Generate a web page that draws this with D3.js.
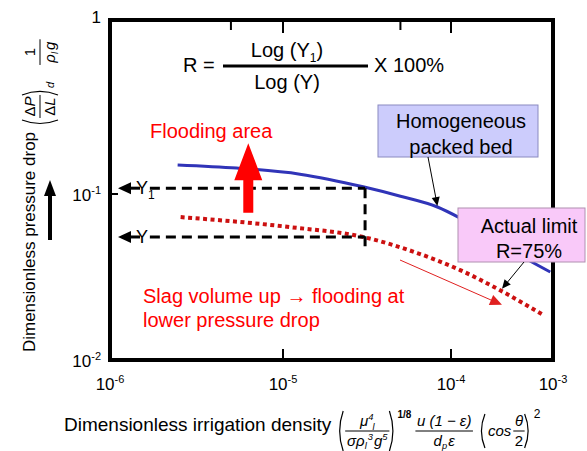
<!DOCTYPE html>
<html>
<head>
<meta charset="utf-8">
<script src="https://cdn.jsdelivr.net/npm/d3@7"></script>
<style>
  body { margin: 0; background: #fff; }
  text { font-family: "Liberation Sans", Arial, Helvetica, sans-serif; }
</style>
</head>
<body>
<div id="chart"></div>
<script>
// axis decades
const xTicks = [1e-6, 1e-5, 1e-4, 1e-3];
const xTickExp = ["-6", "-5", "-4", "-3"];
const xMinorTop = [5e-6, 1e-5, 5e-5, 1e-4];
const xMinorBottom = [1e-5, 1e-4];
const yTicks = [1e-2, 1e-1, 1];
const yTickExp = ["-2", "-1", ""];

// homogeneous packed bed (blue solid)
const homogX = [2.46e-6, 5.4e-6, 1.26e-5, 3.0e-5, 5.0e-5, 8.3e-5, 1.23e-4, 2.4e-4, 5.1e-4, 9.4e-4];
const homogY = [0.147, 0.141, 0.130, 0.110, 0.097, 0.0835, 0.0716, 0.0566, 0.0417, 0.0339];

// actual limit (red dotted)
const actualX = [2.56e-6, 1.1e-5, 3.0e-5, 6.3e-5, 1.23e-4, 3.0e-4, 8.0e-4];
const actualY = [0.0726, 0.0632, 0.0551, 0.0441, 0.0348, 0.0264, 0.0187];

// guide levels
const y1Level = 0.108;
const yLevel = 0.0551;
const cutX = 3.08e-5;
const cutBottom = 0.0448;
const guideStartX = 1.7e-6;
const floodArrow = { x: 6.3e-6, y0: 0.077, y1: 0.196 };
const limitTip = { x: 3.09e-4, y: 0.0261 };
const homogTip = { x: 8.3e-5, y: 0.0835 };

const width = 587, height = 451;
const svg = d3.select("#chart").append("svg")
    .attr("width", width)
    .attr("height", height);

const x = d3.scaleLog().domain(xTicks).range([110, 283, 451, 553]);
const y = d3.scaleLog().domain(yTicks).range([360, 194, 20]);

const mathFont = "'Liberation Serif', 'DejaVu Serif', serif";
const noteSize = 20;

// text with sub/superscript pieces
function mtext(g, px, py, parts, fs, anchor, italic) {
    const t = g.append("text")
        .attr("x", px).attr("y", py)
        .attr("font-family", mathFont)
        .attr("font-style", italic === false ? "normal" : "italic")
        .attr("font-size", fs)
        .attr("text-anchor", anchor || "start");
    let shift = 0;
    parts.forEach(p => {
        const [s, k, dx] = p;
        const target = k === "sup" ? -fs * 0.4 : k === "sub" ? fs * 0.22 : 0;
        const ts = t.append("tspan").attr("dy", target - shift).text(s);
        if (k) ts.attr("font-size", fs * 0.62);
        if (dx) ts.attr("dx", dx);
        if (p[3] === "up") ts.attr("font-style", "normal");
        shift = target;
    });
    return t;
}

function frac(g, px, num, den, fs) {
    const n = mtext(g, 0, -fs * 0.32, num, fs, "middle");
    const d = mtext(g, 0, fs * 1.0, den, fs, "middle");
    const w = Math.max(n.node().getBBox().width, d.node().getBBox().width) + 3;
    n.attr("x", px + w / 2);
    d.attr("x", px + w / 2);
    g.append("line")
        .attr("x1", px).attr("x2", px + w)
        .attr("y1", 0).attr("y2", 0)
        .attr("stroke", "#000").attr("stroke-width", 1);
    return w;
}

function paren(g, px, h, left) {
    const w = 6;
    const p = left
        ? `M${px + w},${-h} Q${px - 1},0 ${px + w},${h}`
        : `M${px},${-h} Q${px + w + 1},0 ${px},${h}`;
    g.append("path").attr("d", p).attr("fill", "none").attr("stroke", "#000").attr("stroke-width", 1.2);
    return w + 2;
}

// frame
svg.append("rect")
    .attr("x", x(1e-6)).attr("y", y(1))
    .attr("width", x(1e-3) - x(1e-6))
    .attr("height", y(1e-2) - y(1))
    .attr("fill", "none")
    .attr("stroke", "#000")
    .attr("stroke-width", 4);

svg.selectAll(".tickTop")
    .data(xMinorTop)
    .enter().append("line")
    .attr("x1", d => x(d)).attr("x2", d => x(d))
    .attr("y1", y(1)).attr("y2", (d, i) => y(1) + (i % 2 ? 13 : 10))
    .attr("stroke", "#000").attr("stroke-width", 2);

svg.selectAll(".tickBottom")
    .data(xMinorBottom)
    .enter().append("line")
    .attr("x1", d => x(d)).attr("x2", d => x(d))
    .attr("y1", y(1e-2)).attr("y2", y(1e-2) - 11)
    .attr("stroke", "#000").attr("stroke-width", 2);

svg.append("line")
    .attr("x1", x(1e-6)).attr("x2", x(1e-6) + 8)
    .attr("y1", y(0.1)).attr("y2", y(0.1))
    .attr("stroke", "#000").attr("stroke-width", 2);

// tick labels
xTicks.forEach((v, i) => {
    const t = svg.append("text")
        .attr("x", x(v)).attr("y", 390)
        .attr("text-anchor", "middle")
        .attr("font-size", 17);
    t.append("tspan").text("10");
    t.append("tspan").attr("dy", -7).attr("font-size", 11).text(xTickExp[i]);
});

yTicks.forEach((v, i) => {
    const t = svg.append("text")
        .attr("x", 101).attr("y", y(v) + (i === 2 ? 3 : 7))
        .attr("text-anchor", "end")
        .attr("font-size", 17);
    if (yTickExp[i]) {
        t.append("tspan").text("10");
        t.append("tspan").attr("dy", -7).attr("font-size", 11).text(yTickExp[i]);
    } else {
        t.text("1");
    }
});

// curves
const line = d3.line()
    .x(d => x(d[0]))
    .y(d => y(d[1]))
    .curve(d3.curveMonotoneX);

svg.append("path")
    .attr("d", line(d3.zip(homogX, homogY)))
    .attr("fill", "none")
    .attr("stroke", "#3034b8")
    .attr("stroke-width", 3);

svg.append("path")
    .attr("d", line(d3.zip(actualX, actualY)))
    .attr("fill", "none")
    .attr("stroke", "#cc1010")
    .attr("stroke-width", 4)
    .attr("stroke-dasharray", "4,3.5");

// Y / Y1 guides
const guide = svg.append("g");
[[y1Level, "Y", "1"], [yLevel, "Y", ""]].forEach(([lv, s, sub]) => {
    const py = y(lv);
    const t = guide.append("text")
        .attr("x", 136).attr("y", py + 6)
        .attr("font-size", 18).text(s);
    if (sub) t.append("tspan").attr("dy", 5).attr("font-size", 12).text(sub);
    guide.append("path")
        .attr("d", `M118,${py} L131,${py - 6} L131,${py + 6} Z`)
        .attr("fill", "#000");
    guide.append("line")
        .attr("x1", 131).attr("x2", 140)
        .attr("y1", py).attr("y2", py)
        .attr("stroke", "#000").attr("stroke-width", 3);
    guide.append("line")
        .attr("x1", x(guideStartX)).attr("x2", x(cutX))
        .attr("y1", py).attr("y2", py)
        .attr("stroke", "#000").attr("stroke-width", 3)
        .attr("stroke-dasharray", "10,6");
});
guide.append("line")
    .attr("x1", x(cutX)).attr("x2", x(cutX))
    .attr("y1", y(y1Level)).attr("y2", y(cutBottom))
    .attr("stroke", "#000").attr("stroke-width", 3)
    .attr("stroke-dasharray", "10,6");

// flooding arrow
const fx = x(floodArrow.x), fy0 = y(floodArrow.y0), fy1 = y(floodArrow.y1);
svg.append("path")
    .attr("d", `M${fx - 5},${fy0} L${fx - 5},${fy1 + 37} L${fx - 14},${fy1 + 37} L${fx},${fy1} L${fx + 14},${fy1 + 37} L${fx + 5},${fy1 + 37} L${fx + 5},${fy0} Z`)
    .attr("fill", "#f00");

svg.append("text")
    .attr("x", 150).attr("y", 138)
    .attr("font-size", noteSize).attr("fill", "#f00")
    .text("Flooding area");

// formula R
const fr = svg.append("g");
fr.append("text").attr("x", 183).attr("y", 72).attr("font-size", noteSize).text("R =");
fr.append("line").attr("x1", 223).attr("x2", 368).attr("y1", 66).attr("y2", 66)
    .attr("stroke", "#000").attr("stroke-width", 3);
const ly1 = fr.append("text").attr("x", 287).attr("y", 57).attr("text-anchor", "middle").attr("font-size", noteSize);
ly1.append("tspan").text("Log (Y");
ly1.append("tspan").attr("dy", 5).attr("font-size", 12).text("1");
ly1.append("tspan").attr("dy", -5).text(")");
fr.append("text").attr("x", 287).attr("y", 89).attr("text-anchor", "middle").attr("font-size", noteSize).text("Log (Y)");
fr.append("text").attr("x", 374).attr("y", 72).attr("font-size", noteSize).text("X 100%");

// homogeneous box
svg.append("rect")
    .attr("x", 378).attr("y", 105).attr("width", 160).attr("height", 52)
    .attr("fill", "#ccccfc").attr("stroke", "#8a8ac0").attr("stroke-width", 1);
svg.append("text").attr("x", 461).attr("y", 128).attr("text-anchor", "middle").attr("font-size", noteSize).text("Homogeneous");
svg.append("text").attr("x", 461).attr("y", 154).attr("text-anchor", "middle").attr("font-size", noteSize).text("packed bed");

// actual limit box
svg.append("rect")
    .attr("x", 458).attr("y", 208).attr("width", 127).attr("height", 54)
    .attr("fill", "#f9c9f9").attr("stroke", "#b090b0").attr("stroke-width", 1);
svg.append("text").attr("x", 529).attr("y", 233).attr("text-anchor", "middle").attr("font-size", noteSize).text("Actual limit");
svg.append("text").attr("x", 529).attr("y", 258).attr("text-anchor", "middle").attr("font-size", noteSize).text("R=75%");

// pointer arrows
function pointer(x1, y1, x2, y2, color, head, sw) {
    const a = Math.atan2(y2 - y1, x2 - x1);
    svg.append("line")
        .attr("x1", x1).attr("y1", y1)
        .attr("x2", x2 - Math.cos(a) * head * 0.8).attr("y2", y2 - Math.sin(a) * head * 0.8)
        .attr("stroke", color).attr("stroke-width", sw);
    const p1 = [x2 - Math.cos(a) * head + Math.sin(a) * head * 0.45, y2 - Math.sin(a) * head - Math.cos(a) * head * 0.45];
    const p2 = [x2 - Math.cos(a) * head - Math.sin(a) * head * 0.45, y2 - Math.sin(a) * head + Math.cos(a) * head * 0.45];
    svg.append("path")
        .attr("d", `M${x2},${y2} L${p1[0]},${p1[1]} L${p2[0]},${p2[1]} Z`)
        .attr("fill", color);
}
pointer(428, 157, x(homogTip.x), y(homogTip.y) - 1, "#000", 9, 1);
pointer(524, 262, x(limitTip.x) + 1, y(limitTip.y) - 2, "#000", 9, 1);
pointer(400, 260, x(limitTip.x) + 1, y(limitTip.y) + 14, "#e02020", 12, 1);

// slag text
svg.append("text").attr("x", 143).attr("y", 303).attr("font-size", noteSize).attr("fill", "#f00")
    .text("Slag volume up \u2192 flooding at");
svg.append("text").attr("x", 143).attr("y", 327).attr("font-size", noteSize).attr("fill", "#f00")
    .text("lower pressure drop");

// y axis title
svg.append("text")
    .attr("transform", "translate(35,242) rotate(-90)")
    .attr("text-anchor", "middle")
    .attr("font-size", 17)
    .text("Dimensionless pressure drop");

svg.append("path")
    .attr("d", "M48,240 L48,196 L44,196 L50,180 L56,196 L52,196 L52,240 Z")
    .attr("fill", "#000");

// y formula (rotated)
const yf = svg.append("g").attr("transform", "translate(40,126) rotate(-90)");
let c = 0;
const fsY = 15;
c += paren(yf, c, 18, true);
c += frac(yf, c, [["\u0394", null, 0, "up"], ["P"]], [["\u0394", null, 0, "up"], ["L"]], fsY);
c += paren(yf, c, 18, false);
mtext(yf, c - 1, 14, [["d"]], 11);
c += 22;
frac(yf, c, [["1", null, 0, "up"]], [["\u03c1"], ["l", "sub"], ["g", null, 2]], fsY);

// x axis title
const xt = svg.append("text")
    .attr("x", 64).attr("y", 431)
    .attr("font-size", 19)
    .text("Dimensionless irrigation density");

const xf = svg.append("g").attr("transform", "translate(0,431)");
let cx = 64 + xt.node().getComputedTextLength() + 6;
const fsX = 15;
cx += paren(xf, cx, 20, true);
cx += frac(xf, cx, [["\u03bc"], ["4", "sup"], ["l", "sub", -1]],
    [["\u03c3\u03c1"], ["l", "sub"], ["3", "sup", 1], ["g", null, 1], ["5", "sup"]], fsX);
cx += paren(xf, cx, 20, false);
xf.append("text").attr("x", cx).attr("y", -13)
    .attr("font-family", mathFont).attr("font-weight", "bold").attr("font-size", 10).text("1/8");
cx += 18;
cx += frac(xf, cx, [["u (1 \u2212 \u03b5)"]], [["d"], ["p", "sub"], ["\u03b5", null, 1]], fsX) + 6;
cx += paren(xf, cx, 17, true);
const cosT = mtext(xf, cx + 1, 5, [["cos"]], fsX);
cx += cosT.node().getComputedTextLength() + 3;
cx += frac(xf, cx, [["\u03b8"]], [["2", null, 0, "up"]], fsX);
cx += paren(xf, cx, 17, false);
xf.append("text").attr("x", cx + 1).attr("y", -13)
    .attr("font-family", mathFont).attr("font-size", 12).text("2");
</script>
</body>
</html>
